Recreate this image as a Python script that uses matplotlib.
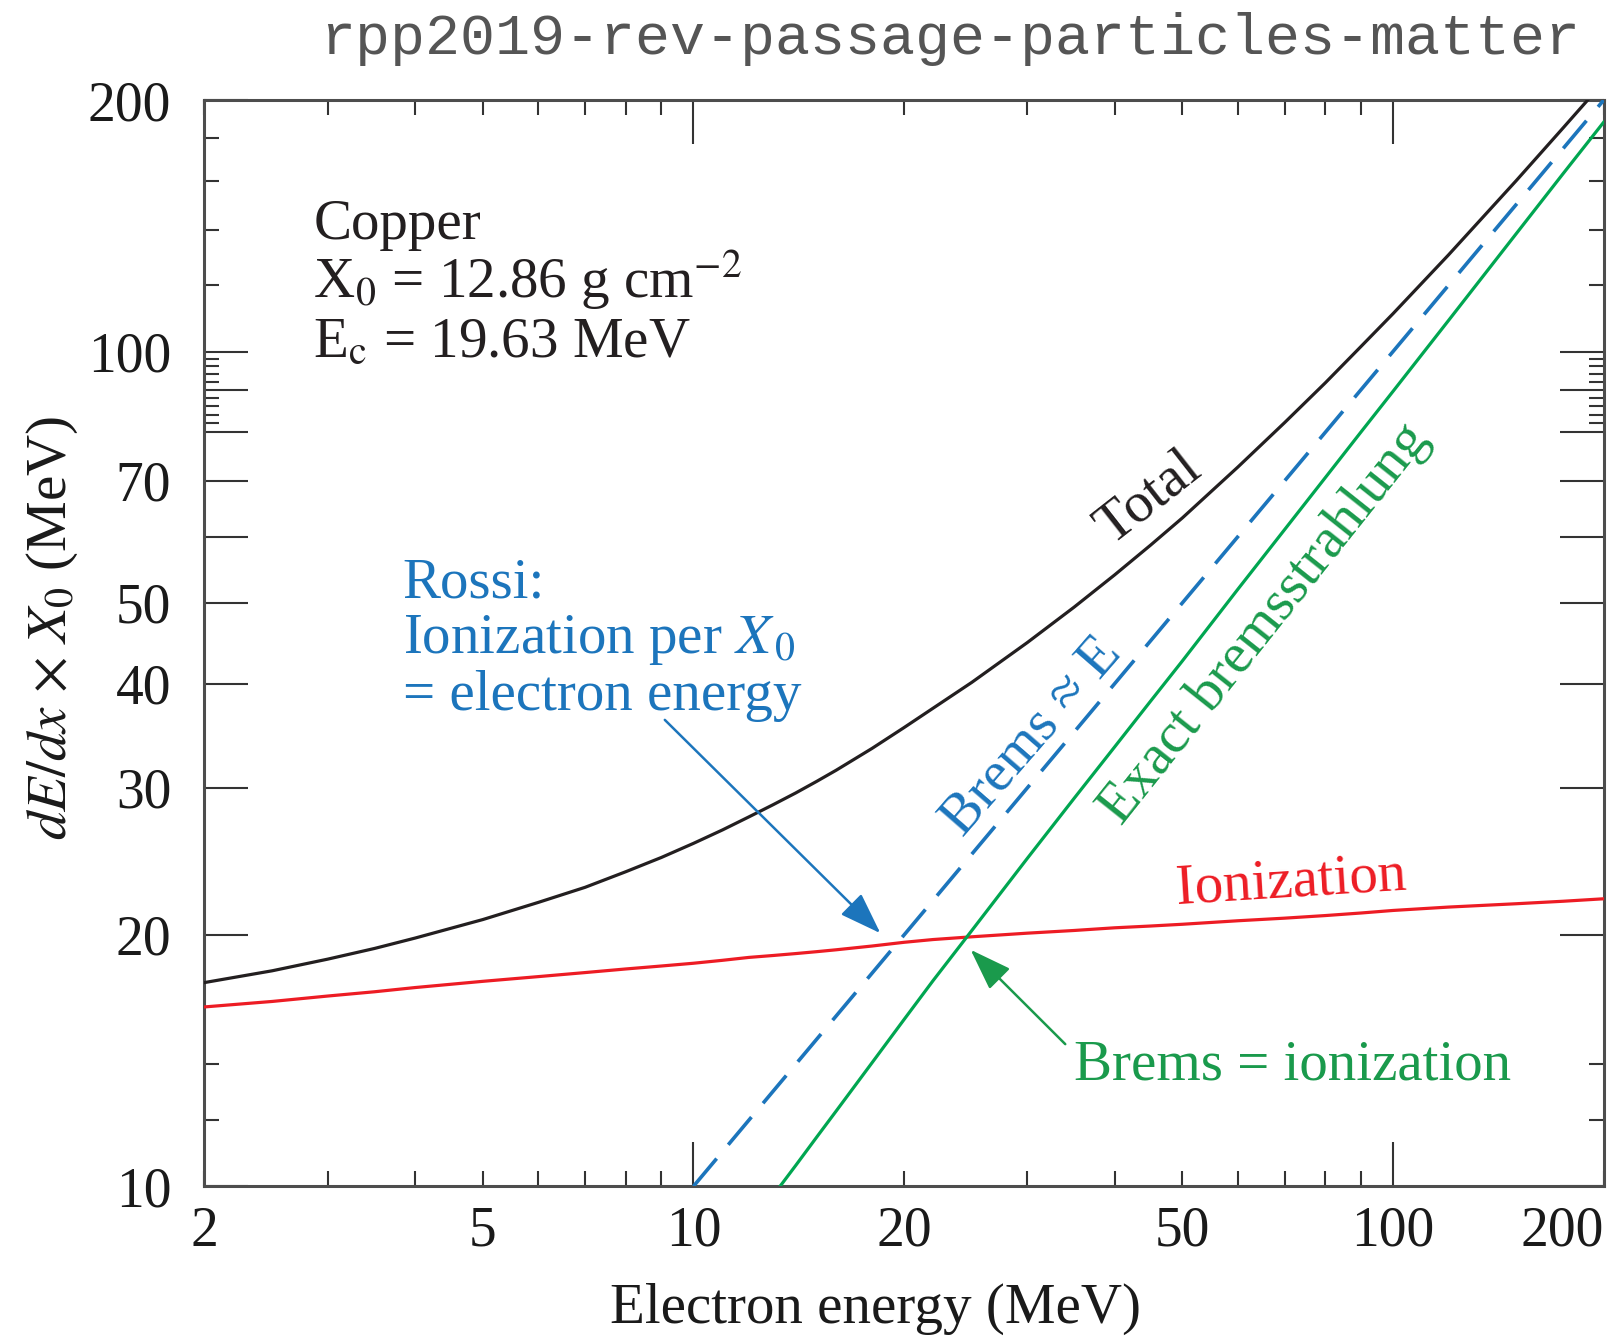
# energy loss per radiation length for electrons in copper
import matplotlib
matplotlib.use('Agg')
import matplotlib.pyplot as plt

plt.rcParams['font.family'] = ['Liberation Serif', 'DejaVu Serif']
plt.rcParams['mathtext.fontset'] = 'stix'

# DATA
# -----------------------------------
energy = [2, 2.5, 3, 3.5, 4, 5, 6, 7, 8, 9, 10, 11, 12, 13, 14, 15, 16, 18, 20, 22, 25, 30, 35,
          40, 45, 50, 60, 70, 80, 90, 100, 120, 150, 175, 200]
ionization = [16.4, 16.65, 16.9, 17.1, 17.3, 17.6, 17.83, 18.03, 18.21, 18.36, 18.5, 18.65, 18.8, 18.9,
              19.0, 19.1, 19.2, 19.4, 19.6, 19.75, 19.9, 20.1, 20.25, 20.4, 20.5, 20.6, 20.8, 20.95,
              21.1, 21.25, 21.4, 21.6, 21.8, 21.95, 22.1]
brems_exact = [1.14, 1.47, 1.81, 2.17, 2.53, 3.27, 4.03, 4.81, 5.61, 6.42, 7.25, 8.07, 8.9, 9.75,
               10.59, 11.45, 12.31, 14.06, 15.84, 17.63, 20.25, 24.7, 29.15, 33.6, 38.1, 42.6, 51.9,
               61.2, 70.6, 80.1, 89.6, 108.9, 138.4, 163.3, 188.2]
total = [17.54, 18.12, 18.71, 19.27, 19.83, 20.87, 21.88, 22.81, 23.81, 24.77, 25.75, 26.72, 27.7,
         28.65, 29.59, 30.55, 31.51, 33.46, 35.44, 37.38, 40.15, 44.8, 49.4, 54.0, 58.6, 63.2, 72.7,
         82.2, 91.7, 101.4, 111.0, 130.5, 160.2, 185.25, 210.3]
rossi_energy = [10, 200]
rossi_brems = [10, 200]

x_major = [10, 100]
x_minor = [2, 3, 4, 5, 6, 7, 8, 9, 20, 30, 40, 50, 60, 70, 80, 90, 200]
x_minor_labels = ['2', '', '', '5', '', '', '', '', '20', '', '', '50', '', '', '', '', '200']
y_major = [10, 20, 30, 40, 50, 60, 70, 80, 90, 100, 200]
y_major_labels = ['10', '20', '30', '40', '50', '', '70', '', '', '100', '200']
y_minor = [12, 14, 82, 84, 86, 88, 92, 94, 96, 98, 120, 140, 160, 180]

c_black = '#231f20'
c_red = '#ed1c24'
c_blue = '#1c75bc'
c_green = '#00a651'
c_green_txt = '#1a9a4c'
c_axis = '#4d4d4d'
fs = 41

fig = plt.figure(figsize=(16.19, 13.38), dpi=100)
ax = fig.add_axes([0.1263, 0.1134, 0.8642, 0.8117])
ax.set_xscale('log')
ax.set_yscale('log')

ax.plot(energy, ionization, color=c_red, lw=2.3, zorder=3)
ax.plot(energy, brems_exact, color=c_green, lw=2.3, zorder=3)
ax.plot(energy, total, color=c_black, lw=2.3, zorder=3)
ax.plot(rossi_energy, rossi_brems, color=c_blue, lw=2.6, dashes=(10, 5), zorder=3)

ax.set_xlim(2, 200)
ax.set_ylim(10, 200)

ax.set_xticks(x_major, labels=['10', '100'])
ax.set_xticks(x_minor, labels=x_minor_labels, minor=True)
ax.set_yticks(y_major, labels=y_major_labels)
ax.set_yticks(y_minor, labels=[''] * len(y_minor), minor=True)
ax.tick_params(which='both', direction='in', top=True, right=True, color='#333333',
               width=1.5, labelsize=40, labelcolor='#1a1a1a')
ax.tick_params(which='major', length=32)
ax.tick_params(which='minor', length=11)
ax.tick_params(axis='x', which='both', pad=14)
ax.tick_params(axis='y', which='both', pad=24)
# keep the last x label inside the figure
ax.get_xticklabels(minor=True)[-1].set_horizontalalignment('right')
for sp in ax.spines.values():
    sp.set_color(c_axis)
    sp.set_linewidth(2.2)

# text labels
ax.text(2.86, 136.2, 'Copper', fontsize=fs, color=c_black, va='baseline')
ax.text(2.86, 116.0, r'X$_0$ = 12.86 g cm$^{-2}$', fontsize=fs, color=c_black, va='baseline')
ax.text(2.86, 98.7, r'E$_\mathrm{c}$ = 19.63 MeV', fontsize=fs, color=c_black, va='baseline')

ax.text(3.84, 50.8, 'Rossi:', fontsize=fs, color=c_blue, va='baseline')
ax.text(3.84, 43.5, r'Ionization per $X_{\,0}$', fontsize=fs, color=c_blue, va='baseline')
ax.text(3.84, 37.15, '= electron energy', fontsize=fs, color=c_blue, va='baseline')

ax.text(35.0, 13.44, 'Brems = ionization', fontsize=fs, color=c_green_txt, va='baseline')
ax.text(71.4, 23.1, 'Ionization', fontsize=fs, color=c_red, ha='center', va='center',
        rotation=3.6, rotation_mode='anchor')
ax.text(44.7, 66.8, 'Total', fontsize=fs, color=c_black, ha='center', va='center',
        rotation=38, rotation_mode='anchor')
ax.text(30.5, 34.6, 'Brems \u2248 E', fontsize=fs, color=c_blue, ha='center', va='center',
        rotation=49, rotation_mode='anchor')
ax.text(65.6, 47.1, 'Exact bremsstrahlung', fontsize=fs, color=c_green_txt, ha='center', va='center',
        rotation=51.5, rotation_mode='anchor')

# arrows
ax.annotate('', xy=(18.5, 20.1), xytext=(9.1, 36.2),
            arrowprops=dict(arrowstyle='-|>,head_length=1.0,head_width=0.35', mutation_scale=26,
                            color=c_blue, lw=1.8, shrinkA=0, shrinkB=0))
ax.annotate('', xy=(24.9, 19.2), xytext=(34.0, 14.8),
            arrowprops=dict(arrowstyle='-|>,head_length=1.0,head_width=0.35', mutation_scale=26,
                            color=c_green_txt, lw=1.8, shrinkA=0, shrinkB=0))

# axis titles
fig.text(875 / 1619, 1 - 1309 / 1338, 'Electron energy (MeV)', fontsize=fs, color='#1a1a1a',
         ha='center', va='center')
fig.text(52 / 1619, 1 - 628 / 1338, r'$dE/dx$ $\times$ $X_0$ (MeV)', fontsize=fs, color='#1a1a1a',
         ha='center', va='center', rotation=90)

fig.text(1580 / 1619, 1 - 54 / 1338, 'rpp2019-rev-passage-particles-matter', fontsize=42,
         family='Liberation Mono', color='#555555', ha='right', va='baseline')

fig.savefig('out.png', dpi=100)
